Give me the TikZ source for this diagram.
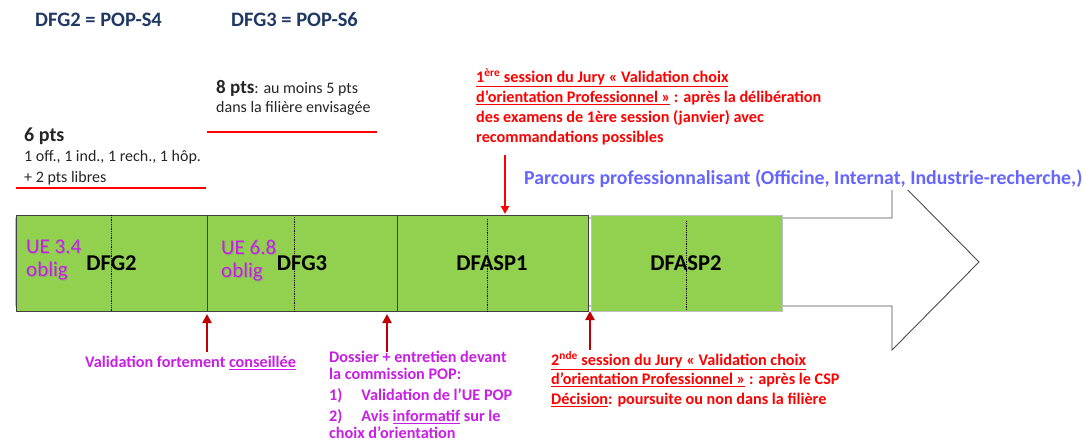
\documentclass[tikz,border=0pt]{standalone}
\usepackage{fontspec}
\setmainfont{Carlito}
\usetikzlibrary{arrows.meta}
\definecolor{navy}{HTML}{1F3864}
\definecolor{boxgreen}{HTML}{92D050}
\definecolor{purp}{HTML}{C81EE6}
\definecolor{darkred}{HTML}{C00000}
\definecolor{lblue}{HTML}{6666FF}
\definecolor{brightred}{HTML}{FF0000}
\tikzset{
  stage/.style={draw=black!75, fill=boxgreen, line width=0.8pt, minimum height=96pt, inner sep=0pt, anchor=north west},
  stagelabel/.style={font=\fontsize{22.6}{24}\selectfont\bfseries, text=black, inner sep=0pt},
  divider/.style={densely dotted, line width=0.8pt, black},
  uetext/.style={font=\fontsize{21}{23}\selectfont, align=left, anchor=north west, inner sep=0pt},
  upmark/.style={darkred, line width=2.4pt, -{Triangle[length=9pt,width=9pt]}},
  downmark/.style={brightred, line width=2pt, -{Triangle[length=8pt,width=8pt]}},
  redrule/.style={brightred, line width=2.2pt},
  title/.style={font=\fontsize{20.5}{22}\selectfont\bfseries, text=navy, anchor=base west, inner sep=0pt},
  redtext/.style={font=\fontsize{16.2}{20}\selectfont\bfseries, text=brightred, align=left, anchor=north west, inner sep=0pt},
  purptext/.style={font=\fontsize{16.2}{17}\selectfont\bfseries, text=purp, align=left, anchor=north west, inner sep=0pt},
  ptstext/.style={font=\fontsize{16}{20.5}\selectfont, text=black!85, align=left, anchor=north west, inner sep=0pt},
}
\begin{document}
\begin{tikzpicture}[x=1pt,y=-1pt]
\useasboundingbox[fill=white] (0,0) rectangle (1084,441);

% big arrow
\draw[draw=black!70, line width=0.9pt, fill=white] (16,218) -- (892,218) -- (892,174) -- (979,262) -- (892,350) -- (892,306) -- (16,306) -- cycle;

% titles
\node[title] (t1) at (35,26.7) {DFG2 = POP-S4};
\node[title] (t2) at (231,26.7) {DFG3 = POP-S6};

% pts blocks
\node[ptstext, font=\fontsize{16}{19}\selectfont] (p8) at (216,80.5) {{\fontsize{19}{20}\selectfont\bfseries 8 pts}: au moins 5 pts\\dans la filière envisagée};
\draw[redrule] (207,132) -- (377,132);
\node[ptstext] (p6) at (24,127.5) {{\fontsize{20}{20}\selectfont\bfseries 6 pts}\\1 off., 1 ind., 1 rech., 1 hôp.\\+ 2 pts libres};
\draw[redrule] (16,188) -- (206,188);

% red first session text
\node[redtext] (s1) at (476,68) {\underline{1\textsuperscript{ère} session du Jury « Validation choix}\\\underline{d’orientation Professionnel »} : après la délibération\\des examens de 1ère session (janvier) avec\\recommandations possibles};

% Parcours
\node[font=\fontsize{19.8}{21}\selectfont\bfseries, text=lblue, fill=white, inner xsep=2pt, inner ysep=3pt, anchor=base west] (parc) at (522,184) {Parcours professionnalisant (Officine, Internat, Industrie-recherche,)};

% stages
\node[stage, minimum width=190.5pt] (dfg2) at (16,215) {};
\node[stage, minimum width=190pt] (dfg3) at (206.5,215) {};
\node[stage, minimum width=191.5pt] (dfasp1) at (396.5,215) {};
\node[stage, draw=black!25, minimum width=191.5pt] (dfasp2) at (590.5,215) {};

\draw[divider] (111,215) -- (111,311);
\draw[divider] (294,217) -- (294,311);
\draw[divider] (487,219) -- (487,311);
\draw[divider] (686,221) -- (686,310);

\node[stagelabel] (l1) at (111.5,263) {DFG2};
\node[stagelabel] (l2) at (302,263) {DFG3};
\node[stagelabel] (l3) at (492,263) {DFASP1};
\node[stagelabel] (l4) at (686,263) {DFASP2};

\node[uetext, text=black!45, opacity=0.6] (ue1s) at (27,240.5) {UE 3.4\\oblig};
\node[uetext, text=purp] (ue1) at (26,239.5) {UE 3.4\\oblig};
\node[uetext, text=black!45, opacity=0.6] (ue2s) at (222,240.5) {UE 6.8\\oblig};
\node[uetext, text=purp] (ue2) at (221,239.5) {UE 6.8\\oblig};

% markers
\coordinate (m1top) at (505,155);
\coordinate (m1bot) at (505,214);
\draw[downmark] (m1top) -- (m1bot);

\coordinate (u1s) at (207,352);
\coordinate (u1e) at (207,314);
\coordinate (u2s) at (387,352);
\coordinate (u2e) at (387,314);
\coordinate (u3s) at (590,350);
\coordinate (u3e) at (590,311);
\draw[upmark] (u1s) -- (u1e);
\draw[upmark] (u2s) -- (u2e);
\draw[upmark] (u3s) -- (u3e);

% bottom texts
\node[purptext] (v1) at (85,356) {Validation fortement \underline{conseillée}};
\node[purptext] (v2) at (329,350.5) {Dossier + entretien devant\\la commission POP:\\[4.7pt]1)\hspace{19pt}Validation de l’UE POP\\[4pt]2)\hspace{19pt}Avis \underline{informatif} sur le\\[0pt]choix d’orientation};
\node[redtext, font=\fontsize{16.2}{19.5}\selectfont\bfseries] (s2) at (551,351) {\underline{2\textsuperscript{nde} session du Jury « Validation choix}\\\underline{d’orientation Professionnel »} : après le CSP\\\underline{Décision}: poursuite ou non dans la filière};
\end{tikzpicture}
\end{document}
